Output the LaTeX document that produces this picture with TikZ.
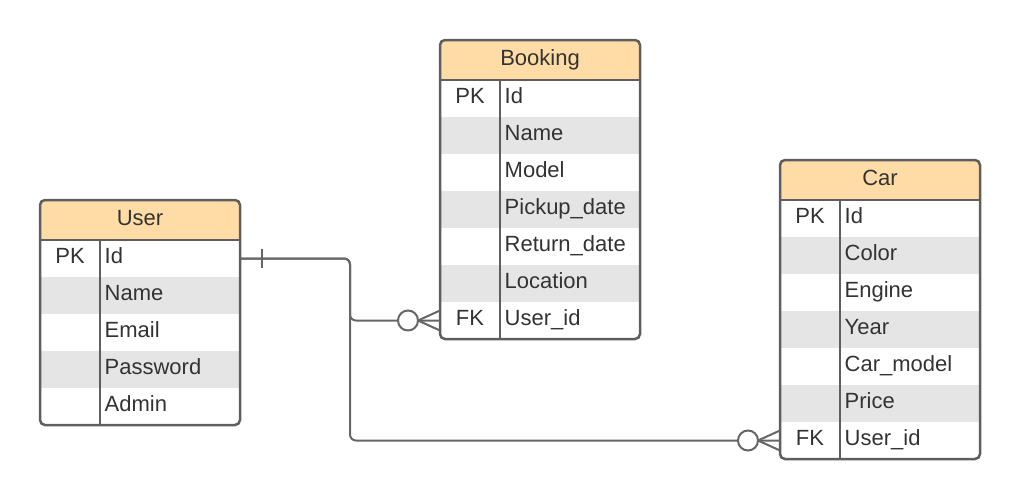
\documentclass[tikz,border=0pt]{standalone}
\usepackage{fontspec}
\setmainfont{Liberation Sans}
\definecolor{edge}{RGB}{94,94,94}
\definecolor{wire}{RGB}{102,102,102}
\definecolor{head}{RGB}{255,219,166}
\definecolor{stripe}{RGB}{229,229,229}
\definecolor{ink}{RGB}{51,51,51}
\begin{document}
\begin{tikzpicture}[x=1pt,y=-1pt,
	rowbox/.style={minimum width=200pt,minimum height=37pt,inner sep=0pt,outer sep=0pt},
	cell/.style={inner sep=0pt,text height=16pt,text depth=5.8pt,text=ink,font=\fontsize{22}{26}\selectfont},
	field/.style={cell,anchor=west},
	frame/.style={draw=edge,line width=2.5pt},
	rel/.style={draw=wire,line width=2pt}]
	\useasboundingbox (0,0) rectangle (1020,499);

	% User
	\fill[head,rounded corners=5pt] (40,200) rectangle (240,240);
	\fill[head] (40,225) rectangle (240,240);
	\foreach \f [count=\i] in {Id,Name,Email,Password,Admin} {
		\ifodd\i\else \fill[stripe] (40,{203+37*\i}) rectangle (240,{240+37*\i}); \fi
		\node[rowbox] (user-\i) at (140,{221.5+37*\i}) {};
		\node[field] at (104.5,{221.5+37*\i}) {\f};
	}
	\draw[frame,rounded corners=5pt] (40,200) rectangle (240,425);
	\draw[frame] (40,240) -- (240,240) (100,240) -- (100,425);
	\node[cell] (user) at (140,220) {User};
	\node[cell] at (70,258.5) {PK};

	% Booking
	\fill[head,rounded corners=5pt] (440,40) rectangle (640,80);
	\fill[head] (440,65) rectangle (640,80);
	\foreach \f [count=\i] in {Id,Name,Model,Pickup\_date,Return\_date,Location,User\_id} {
		\ifodd\i\else \fill[stripe] (440,{43+37*\i}) rectangle (640,{80+37*\i}); \fi
		\node[rowbox] (booking-\i) at (540,{61.5+37*\i}) {};
		\node[field] at (504.5,{61.5+37*\i}) {\f};
	}
	\draw[frame,rounded corners=5pt] (440,40) rectangle (640,339);
	\draw[frame] (440,80) -- (640,80) (500,80) -- (500,339);
	\node[cell] (booking) at (540,60) {Booking};
	\node[cell] at (470,98.5) {PK};
	\node[cell] at (470,320.5) {FK};

	% Car
	\fill[head,rounded corners=5pt] (780,160) rectangle (980,200);
	\fill[head] (780,185) rectangle (980,200);
	\foreach \f [count=\i] in {Id,Color,Engine,Year,Car\_model,Price,User\_id} {
		\ifodd\i\else \fill[stripe] (780,{163+37*\i}) rectangle (980,{200+37*\i}); \fi
		\node[rowbox] (car-\i) at (880,{181.5+37*\i}) {};
		\node[field] at (844.5,{181.5+37*\i}) {\f};
	}
	\draw[frame,rounded corners=5pt] (780,160) rectangle (980,459);
	\draw[frame] (780,200) -- (980,200) (840,200) -- (840,459);
	\node[cell] (car) at (880,180) {Car};
	\node[cell] at (810,218.5) {PK};
	\node[cell] at (810,440.5) {FK};

	% relations
	\coordinate (bend) at (350,258.5);
	\draw[rel,rounded corners=6pt] (user-1.east) -- (bend) |- (booking-7.west);
	\draw[rel,rounded corners=6pt] (user-1.east) -- (bend) |- (car-7.west);
	\draw[rel] ([xshift=22pt]user-1.east) ++(0,-9.5) -- ++(0,19);
	\begin{scope}[shift={(booking-7.west)}]
		\draw[rel] (-22,0) -- (0,-10) (-22,0) -- (0,10);
		\filldraw[rel,fill=white] (-32,0) circle (10pt);
	\end{scope}
	\begin{scope}[shift={(car-7.west)}]
		\draw[rel] (-22,0) -- (0,-10) (-22,0) -- (0,10);
		\filldraw[rel,fill=white] (-32,0) circle (10pt);
	\end{scope}
\end{tikzpicture}
\end{document}
